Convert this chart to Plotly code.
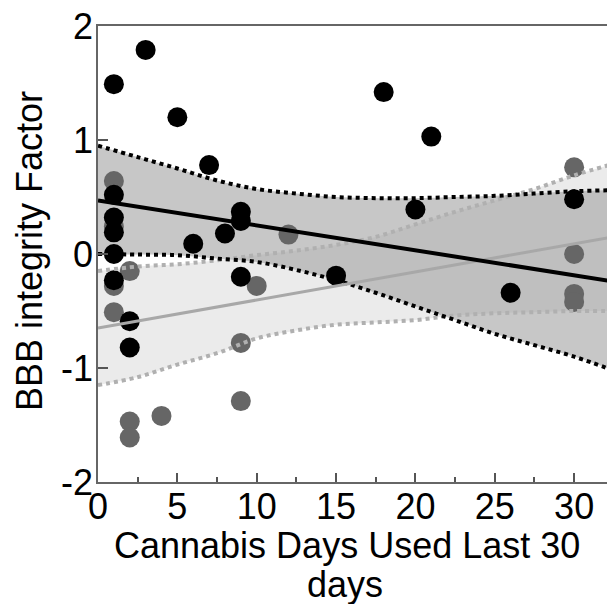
import plotly.graph_objects as go

# Data points
black_x = [1, 3, 5, 7, 18, 21, 1, 1, 1, 1, 1, 2, 2, 9, 9, 8, 6, 9, 15, 20, 26, 30]
black_y = [1.49, 1.79, 1.20, 0.78, 1.42, 1.03, 0.52, 0.32, 0.19, 0.0, -0.23, -0.59, -0.82,
           0.37, 0.29, 0.18, 0.09, -0.20, -0.19, 0.39, -0.34, 0.48]

grey_x = [1, 1, 2, 1, 1, 2, 2, 4, 9, 9, 10, 12, 30, 30, 30, 30]
grey_y = [0.64, 0.24, -0.15, -0.28, -0.51, -1.47, -1.61, -1.42, -0.78, -1.29, -0.28, 0.17,
          0.76, 0.0, -0.35, -0.42]

# Fit lines
fit_x = [0, 32.45]
black_fit = [0.47, -0.24]
grey_fit = [-0.65, 0.15]

# Confidence bands
band_x = [0, 2.5, 5, 7.5, 10, 12.5, 15, 17.5, 20, 22.5, 25, 27.5, 30, 32.45]
black_upper = [0.95, 0.85, 0.75, 0.645, 0.57, 0.53, 0.50, 0.49, 0.49, 0.50, 0.51, 0.53, 0.55, 0.56]
black_lower = [0.00, -0.005, -0.01, -0.04, -0.07, -0.14, -0.23, -0.34, -0.46, -0.58, -0.70, -0.80, -0.90, -1.02]
grey_upper = [-0.15, -0.11, -0.09, -0.055, -0.01, 0.03, 0.08, 0.15, 0.26, 0.37, 0.47, 0.57, 0.69, 0.79]
grey_lower = [-1.15, -1.08, -0.97, -0.87, -0.74, -0.67, -0.62, -0.60, -0.58, -0.54, -0.52, -0.51, -0.50, -0.50]

x_ticks = [0, 5, 10, 15, 20, 25, 30]
x_ticktext = ["0", "5", "10", "15", "20", "25", "30"]
y_ticks = [-2, -1, 0, 1, 2]
y_ticktext = ["-2", "-1", "0", "1", "2"]
x_title_lines = ["Cannabis Days Used Last 30", "days"]
y_title = "BBB integrity Factor"

FONT = "Liberation Sans, Arial, sans-serif"
FS = 36

fig = go.Figure()

# band fills
fig.add_trace(go.Scatter(x=band_x, y=grey_lower, mode="lines", line=dict(width=0, shape="spline"),
                         showlegend=False, hoverinfo="skip"))
fig.add_trace(go.Scatter(x=band_x, y=grey_upper, mode="lines", line=dict(width=0, shape="spline"),
                         fill="tonexty", fillcolor="rgba(215,215,215,0.5)",
                         showlegend=False, hoverinfo="skip"))
fig.add_trace(go.Scatter(x=band_x, y=black_lower, mode="lines", line=dict(width=0, shape="spline"),
                         showlegend=False, hoverinfo="skip"))
fig.add_trace(go.Scatter(x=band_x, y=black_upper, mode="lines", line=dict(width=0, shape="spline"),
                         fill="tonexty", fillcolor="rgba(165,165,165,0.62)",
                         showlegend=False, hoverinfo="skip"))

# points
fig.add_trace(go.Scatter(x=grey_x, y=grey_y, mode="markers",
                         marker=dict(size=20, color="#666666", line=dict(width=0)),
                         showlegend=False))
fig.add_trace(go.Scatter(x=black_x, y=black_y, mode="markers",
                         marker=dict(size=20, color="#000000", line=dict(width=0)),
                         showlegend=False))

# band edges
for yy, col in [(grey_upper, "#b0b0b0"), (grey_lower, "#b0b0b0"),
                (black_upper, "#000000"), (black_lower, "#000000")]:
    fig.add_trace(go.Scatter(x=band_x, y=yy, mode="lines",
                             line=dict(color=col, width=4, dash="dot", shape="spline"),
                             showlegend=False, hoverinfo="skip"))

# fit lines
fig.add_trace(go.Scatter(x=fit_x, y=grey_fit, mode="lines",
                         line=dict(color="#a8a8a8", width=3), showlegend=False))
fig.add_trace(go.Scatter(x=fit_x, y=black_fit, mode="lines",
                         line=dict(color="#000000", width=4), showlegend=False))

# page body has an 8px default margin: size the figure so the plot area lands where the reference's is
fig.update_layout(
    width=607, height=596,
    margin=dict(l=90, r=2, t=18, b=122),
    paper_bgcolor="white", plot_bgcolor="white",
    font=dict(family=FONT, color="black", size=FS),
    showlegend=False,
)
fig.update_xaxes(
    range=[0, 32.45], tickvals=x_ticks, ticktext=x_ticktext, automargin=False,
    ticks="inside", ticklen=9, tickwidth=1.5, tickcolor="#555555",
    minor=dict(dtick=2.5, ticks="inside", ticklen=5, tickwidth=1.5, tickcolor="#555555"),
    showline=True, linecolor="#666666", linewidth=1.5, mirror=True,
    showgrid=False, zeroline=False, ticklabelstandoff=-8, ticklabeloverflow="allow",
    tickfont=dict(size=FS, family=FONT),
)
fig.update_yaxes(
    range=[-2, 2], tickvals=y_ticks, ticktext=y_ticktext, automargin=False,
    ticks="inside", ticklen=10, tickwidth=1.5, tickcolor="#555555",
    showline=True, linecolor="#666666", linewidth=1.5, mirror=True,
    showgrid=False, zeroline=False, ticklabelstandoff=-4, ticklabeloverflow="allow",
    tickfont=dict(size=FS, family=FONT),
)

fig.add_annotation(text=x_title_lines[0], xref="paper", yref="paper", x=0.4835, y=-0.14,
                   xanchor="center", yanchor="middle", showarrow=False,
                   font=dict(size=FS, family=FONT, color="black"))
fig.add_annotation(text=x_title_lines[1], xref="paper", yref="paper", x=0.48, y=-0.225,
                   xanchor="center", yanchor="middle", showarrow=False,
                   font=dict(size=FS, family=FONT, color="black"))
fig.add_annotation(text=y_title, xref="paper", yref="paper", x=-0.132, y=0.5066,
                   xanchor="center", yanchor="middle", textangle=-90, showarrow=False,
                   font=dict(size=FS, family=FONT, color="black"))

fig.write_html("out.html")
